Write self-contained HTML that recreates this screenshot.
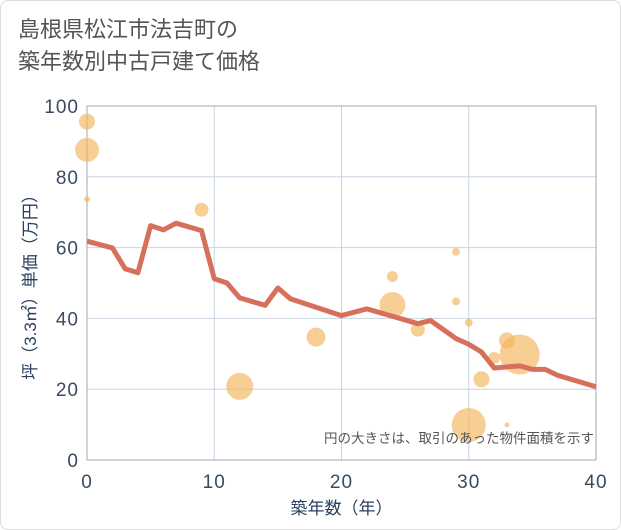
<!DOCTYPE html>
<html><head><meta charset="utf-8"><style>
html,body{margin:0;padding:0;background:#fff;}
body{width:621px;height:530px;overflow:hidden;font-family:"Liberation Sans","Noto Sans CJK JP",sans-serif;}
.wrap{position:absolute;left:0;top:0;width:619px;height:528px;border:1px solid #ddd;border-radius:8px;}
.title{position:absolute;left:18px;top:14px;font-size:22px;line-height:32px;color:#555;}
</style></head><body>
<div class="wrap"></div>
<div class="title">島根県松江市法吉町の<br>築年数別中古戸建て価格</div>
<svg id="chart" width="621" height="530" style="position:absolute;left:0;top:0"></svg>
<script>
const lineYears=[0,2,3,4,5,6,7,9,10,11,12,14,15,16,20,22,26,27,29,30,31,32,34,35,36,37,40];
const lineValues=[61.8,59.9,54.0,52.9,66.2,65.0,66.9,64.8,51.2,50.0,45.8,43.7,48.6,45.5,40.8,42.7,38.5,39.4,34.3,32.7,30.5,26.0,26.6,25.6,25.6,23.9,20.7];
const bubbleYears=[0,0,0,9,12,18,24,24,26,29,29,30,33,32,34,31,30,33];
const bubbleValues=[95.6,87.6,73.7,70.7,20.8,34.7,51.8,43.8,36.8,58.8,44.8,38.8,33.8,28.8,29.8,22.8,9.9,9.9];
const bubbleSizes=[64,144,9,49,182,90,30,169,49,16,16,16,64,36,400,64,289,6];
const xTicks=[0,10,20,30,40];
const yTicks=[0,20,40,60,80,100];
const NS="http://www.w3.org/2000/svg";
const svg=document.getElementById('chart');
const X0=87,X1=596,Y0=460,Y1=106;
const xs=v=>X0+(X1-X0)*v/40;
const ys=v=>Y0-(Y0-Y1)*v/100;
function mk(t,a){const e=document.createElementNS(NS,t);for(const k in a)e.setAttribute(k,a[k]);svg.appendChild(e);return e;}
for(const t of xTicks){
 const g=mk('line',{x1:xs(t),x2:xs(t),y1:Y1,y2:Y0,stroke:'#c8d4e3','stroke-width':1});
 
 
 const l=mk('text',{x:xs(t),y:Y0+28,'text-anchor':'middle','font-size':19,fill:'#3a4a5f','letter-spacing':1});
 l.textContent=t;
 
 
}
for(const t of yTicks){
 const g=mk('line',{x1:X0,x2:X1,y1:ys(t),y2:ys(t),stroke:'#c8d4e3','stroke-width':1});
 
 
 const l=mk('text',{x:X0-8,y:ys(t)+7,'text-anchor':'end','font-size':19,fill:'#3a4a5f','letter-spacing':1});
 l.textContent=t;
 
 
}
const fr=mk('rect',{x:X0,y:Y1,width:X1-X0,height:Y0-Y1,fill:'none',stroke:'#a0a8b4','stroke-width':1});


for(let i=0;i<bubbleYears.length;i++){
 const c=mk('circle',{cx:xs(bubbleYears[i]),cy:ys(bubbleValues[i]),r:Math.sqrt(bubbleSizes[i]),fill:'#f2b65a','fill-opacity':0.65});
 
 
}
const pts=lineYears.map((y,i)=>xs(y)+','+ys(lineValues[i])).join(' ');
const pl=mk('polyline',{points:pts,fill:'none',stroke:'#d6705a','stroke-width':5,'stroke-linejoin':'round'});


const note=mk('text',{x:594,y:443,'text-anchor':'end','font-size':13.5,fill:'#555'});
note.textContent='円の大きさは、取引のあった物件面積を示す';


const xt=mk('text',{x:(X0+X1)/2,y:514,'text-anchor':'middle','font-size':17,fill:'#2a3f5f'});
xt.textContent='築年数（年）';


const yt=mk('text',{x:0,y:0,'text-anchor':'middle','font-size':17,fill:'#2a3f5f',transform:'translate(36,'+((Y0+Y1)/2)+') rotate(-90)'});
yt.textContent='坪（3.3㎡）単価（万円）';


</script>
</body></html>
